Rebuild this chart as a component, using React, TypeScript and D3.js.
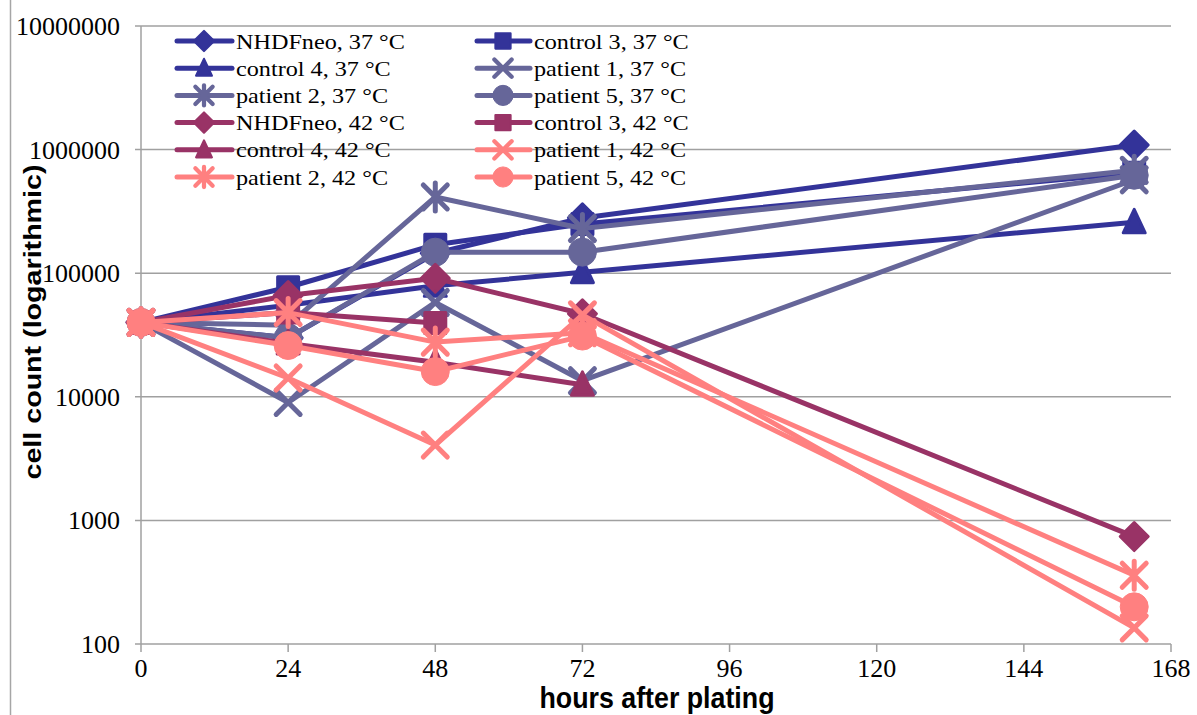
import React from "react";
import * as d3 from "d3";

const HOURS = [0, 24, 48, 72, 162];
const X_TICKS = [0, 24, 48, 72, 96, 120, 144, 168];
const Y_TICKS = [100, 1000, 10000, 100000, 1000000, 10000000];

const NAMES = [
  "NHDFneo, 37 °C", "control 3, 37 °C", "control 4, 37 °C", "patient 1, 37 °C",
  "patient 2, 37 °C", "patient 5, 37 °C", "NHDFneo, 42 °C", "control 3, 42 °C",
  "control 4, 42 °C", "patient 1, 42 °C", "patient 2, 42 °C", "patient 5, 42 °C",
];

const nhdf37 = [40000, 30000, 145000, 280000, 1090000];
const control3_37 = [40000, 77000, 170000, 250000, 650000];
const control4_37 = [40000, 55000, 79000, 102000, 258000];
const patient1_37 = [40000, 9000, 58000, 13500, 570000];
const patient2_37 = [40000, 38000, 414000, 230000, 680000];
const patient5_37 = [40000, 30000, 148000, 148000, 620000];
const nhdf42 = [40000, 66000, 91000, 47000, 740];
const control3_42 = [40000, 48000, 39500, null, null];
const control4_42 = [40000, 27000, 19000, 12500, null];
const patient1_42 = [40000, 14200, 4070, 46000, 135];
const patient2_42 = [40000, 48000, 27700, 33000, 360];
const patient5_42 = [40000, 26000, 16000, 31000, 200];

const VALUES = [
  nhdf37, control3_37, control4_37, patient1_37, patient2_37, patient5_37,
  nhdf42, control3_42, control4_42, patient1_42, patient2_42, patient5_42,
];

const BLUE = "#333399";
const SLATE = "#666699";
const MAROON = "#993366";
const SALMON = "#FF8080";
const COLORS = [BLUE, BLUE, BLUE, SLATE, SLATE, SLATE, MAROON, MAROON, MAROON, SALMON, SALMON, SALMON];
const MARKERS = ["diamond", "square", "triangle", "x", "star", "circle", "diamond", "square", "triangle", "x", "star", "circle"];

const SERIF = "'Liberation Serif', 'Times New Roman', serif";
const SANS = "'Liberation Sans', Arial, sans-serif";

function Marker({ type, color, s }: { type: string; color: string; s: number }) {
  if (type === "circle") {
    return <circle r={14 * s} fill={color} stroke={color} strokeWidth={1} />;
  }
  if (type === "diamond") {
    const h = 14 * s;
    return <path d={`M0,${-h}L${h},0L0,${h}L${-h},0Z`} fill={color} stroke={color} strokeWidth={3 * s} strokeLinejoin="round" />;
  }
  if (type === "square") {
    const h = 10.5 * s;
    return <rect x={-h} y={-h} width={2 * h} height={2 * h} fill={color} stroke={color} strokeWidth={3 * s} strokeLinejoin="round" />;
  }
  if (type === "triangle") {
    const w = 11 * s;
    return <path d={`M0,${-13 * s}L${w},${10.5 * s}L${-w},${10.5 * s}Z`} fill={color} stroke={color} strokeWidth={3 * s} strokeLinejoin="round" />;
  }
  const a = 12 * s;
  let d = `M${-a},${-a}L${a},${a}M${-a},${a}L${a},${-a}`;
  if (type === "star") d += `M0,${-14 * s}L0,${14 * s}`;
  return <path d={d} fill="none" stroke={color} strokeWidth={5 * Math.max(s, 0.85)} strokeLinecap="round" />;
}

export default function App() {
  const x = d3.scaleLinear().domain([0, 168]).range([141, 1171]);
  const y = d3.scaleLog().domain([100, 10000000]).range([644, 26]);

  const series = NAMES.map((name, i) => ({
    name,
    color: COLORS[i],
    marker: MARKERS[i],
    points: HOURS.map((h, j) => ({ h, v: VALUES[i][j] })).filter((p) => p.v != null) as { h: number; v: number }[],
  }));

  const line = d3
    .line<{ h: number; v: number }>()
    .x((p) => x(p.h))
    .y((p) => y(p.v));

  const legendCols = [
    { lx1: 177, lx2: 232, mx: 204, tx: 236 },
    { lx1: 477, lx2: 530, mx: 503, tx: 534 },
  ];
  const legendRowY = (r: number) => 41 + r * 27.2;

  return (
    <svg
      width={1197}
      height={715}
      style={{ position: "fixed", left: 0, top: 0, background: "#fff" }}
    >
      <rect x={0} y={0} width={1197} height={715} fill="#fff" />
      <line x1={10.5} y1={0} x2={10.5} y2={715} stroke="#a6a6a6" strokeWidth={1.5} />

      {Y_TICKS.map((t) => (
        <line key={"g" + t} x1={135} x2={1171} y1={y(t)} y2={y(t)} stroke="#a0a0a0" strokeWidth={1.5} />
      ))}
      <line x1={141} x2={141} y1={26} y2={644} stroke="#a0a0a0" strokeWidth={1.5} />
      {X_TICKS.map((t) => (
        <line key={"xt" + t} x1={x(t)} x2={x(t)} y1={644} y2={652} stroke="#a0a0a0" strokeWidth={1.5} />
      ))}
      {Y_TICKS.map((t) => (
        <text key={"yl" + t} x={120} y={y(t) + 9} textAnchor="end" fontFamily={SERIF} fontSize={26} fill="#000">
          {String(t)}
        </text>
      ))}
      {X_TICKS.map((t) => (
        <text key={"xl" + t} x={x(t)} y={677} textAnchor="middle" fontFamily={SERIF} fontSize={26} fill="#000">
          {String(t)}
        </text>
      ))}

      <text
        x={657}
        y={708}
        textAnchor="middle"
        fontFamily={SANS}
        fontWeight="bold"
        fontSize={30}
        textLength={235}
        lengthAdjust="spacingAndGlyphs"
      >
        hours after plating
      </text>
      <text
        transform="translate(41,322) rotate(-90)"
        textAnchor="middle"
        fontFamily={SANS}
        fontWeight="bold"
        fontSize={23}
        textLength={315}
        lengthAdjust="spacingAndGlyphs"
      >
        cell count (logarithmic)
      </text>

      {series.map((s) => (
        <g key={s.name}>
          <path d={line(s.points) || ""} fill="none" stroke={s.color} strokeWidth={5} strokeLinejoin="round" />
          {s.points.map((p, j) => (
            <g key={j} transform={`translate(${x(p.h)},${y(p.v)})`}>
              <Marker type={s.marker} color={s.color} s={1} />
            </g>
          ))}
        </g>
      ))}

      {series.map((s, i) => {
        const col = legendCols[i % 2];
        const ry = legendRowY(Math.floor(i / 2));
        return (
          <g key={"lg" + i}>
            <line x1={col.lx1} x2={col.lx2} y1={ry} y2={ry} stroke={s.color} strokeWidth={5} strokeLinecap="round" />
            <g transform={`translate(${col.mx},${ry})`}>
              <Marker type={s.marker} color={s.color} s={0.72} />
            </g>
            <text
              transform={`translate(${col.tx},${ry + 7.5}) scale(1.1,1)`}
              fontFamily={SERIF}
              fontSize={22}
              fill="#000"
            >
              {s.name}
            </text>
          </g>
        );
      })}
    </svg>
  );
}
